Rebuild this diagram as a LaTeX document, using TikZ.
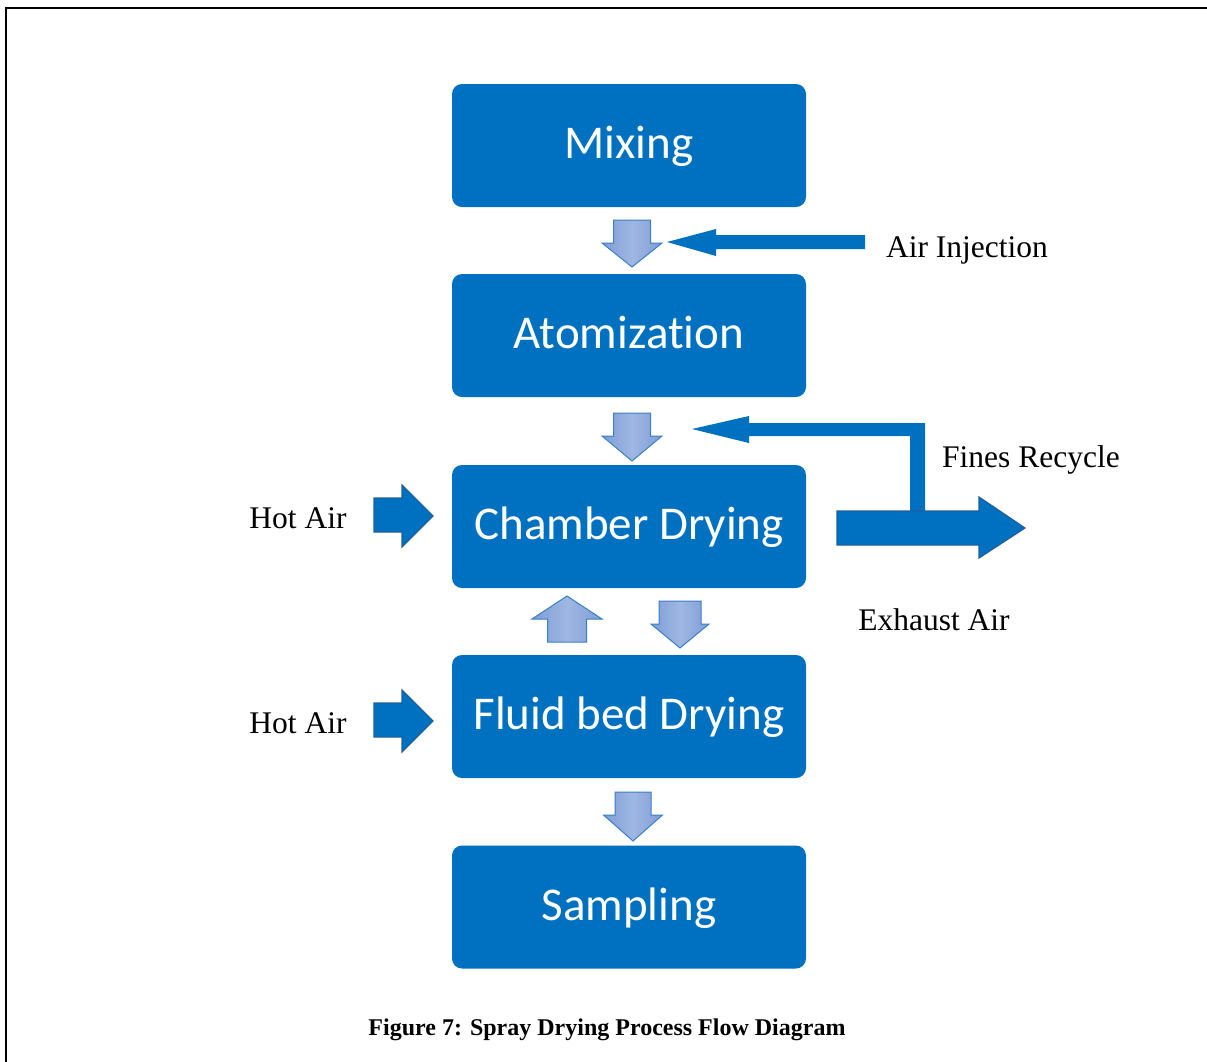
\documentclass[tikz,border=0pt]{standalone}
\usepackage{fontspec}
\setmainfont{Liberation Serif}
\newfontfamily\boxfont[Ligatures=NoCommon]{Carlito}
\definecolor{boxblue}{HTML}{0070C0}
\definecolor{darkedge}{HTML}{1F5F9E}
\definecolor{lightA}{HTML}{7E9DD7}
\definecolor{lightB}{HTML}{9FB7E2}
\definecolor{lightedge}{HTML}{3A7EC6}
\newcommand\blockdown[6]{%
  \draw[lightarr] (#1-#3,#2) -- (#1+#3,#2) -- (#1+#3,#5) -- (#1+#4,#5) -- (#1,#6) -- (#1-#4,#5) -- (#1-#3,#5) -- cycle;}
\begin{document}
\begin{tikzpicture}[x=0.5pt,y=-0.5pt,
  procbox/.style={fill=boxblue,rounded corners=5pt,minimum width=177pt,minimum height=61.5pt,inner sep=0pt,
    text height=18.4pt,text depth=5pt,
    text=white,font=\boxfont\fontsize{23.5}{28}\selectfont},
  lbl/.style={font=\fontsize{15.75}{19}\selectfont,inner sep=0pt},
  lightarr/.style={left color=lightA,right color=lightA,middle color=lightB,draw=lightedge,line width=0.5pt,line join=miter},
  darkarr/.style={fill=boxblue,draw=darkedge,line width=0.6pt,line join=miter},
  flatarr/.style={fill=boxblue}]
\useasboundingbox (0,0) rectangle (1207,1062);
\draw[line width=1pt] (6,1062) -- (6,8) -- (1207,8);
% boxes
\node[procbox] (mix) at (629,145.5) {Mixing};
\node[procbox] (atom) at (629,335.5) {Atomization};
\node[procbox] (chamber) at (629,526.5) {Chamber Drying};
\node[procbox] (fluid) at (629,716.5) {Fluid bed Drying};
\node[procbox] (samp) at (629,907) {Sampling};
% light block arrows
\blockdown{632}{220}{18.5}{30}{243}{267}
\blockdown{632}{413}{18.5}{30}{436}{461}
\blockdown{680}{601}{21}{29}{624}{648}
\blockdown{633}{792}{18}{29.5}{815}{841}
\draw[lightarr] (567-19.5,642) -- (567+19.5,642) -- (567+19.5,619) -- (567+35,619) -- (567,596) -- (567-35,619) -- (567-19.5,619) -- cycle;
% air injection
\fill[flatarr] (865,235) -- (716,235) -- (716,229) -- (667,242) -- (716,256) -- (716,249) -- (865,249) -- cycle;
% fines recycle
\fill[flatarr] (692,429) -- (749,416) -- (749,423) -- (925,423) -- (925,512) -- (910,512) -- (910,436) -- (749,436) -- (749,443) -- cycle;
% exhaust
\draw[darkarr] (837,511) -- (979,511) -- (979,497) -- (1025,528) -- (979,558) -- (979,545) -- (837,545) -- cycle;
% hot air arrows
\draw[darkarr] (374,498) -- (402,498) -- (402,485) -- (433,516) -- (402,547) -- (402,532) -- (374,532) -- cycle;
\draw[darkarr] (374,703) -- (402,703) -- (402,690) -- (433,721) -- (402,752) -- (402,737) -- (374,737) -- cycle;
% labels
\node[lbl] (hot1) at (298,518) {Hot Air};
\node[lbl] (hot2) at (298,723) {Hot Air};
\node[lbl] (inj) at (967,250) {Air Injection};
\node[lbl] (fines) at (1031,460) {Fines Recycle};
\node[lbl] (exh) at (934,620) {Exhaust Air};
\node[font=\bfseries\fontsize{12}{14}\selectfont,inner sep=0pt] (cap) at (607,1030) {Figure 7: Spray Drying Process Flow Diagram};
\end{tikzpicture}
\end{document}
